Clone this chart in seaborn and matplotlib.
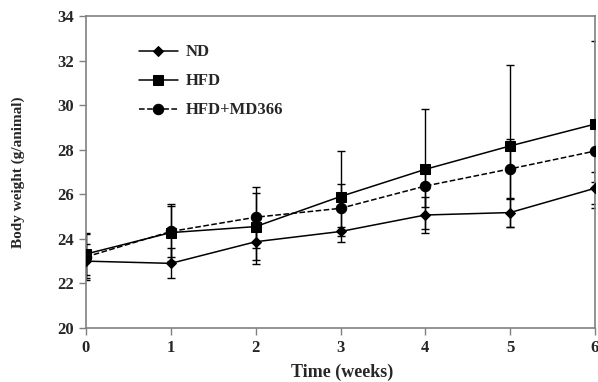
import matplotlib
matplotlib.use("Agg")
import matplotlib.pyplot as plt
import pandas as pd
import seaborn as sns

# body weight (g/animal) per week, mean and SD
weeks = [0, 1, 2, 3, 4, 5, 6]
groups = ["ND", "HFD", "HFD+MD366"]

nd_mean = [23.0, 22.9, 23.87, 24.33, 25.07, 25.18, 26.27]
nd_sd = [0.75, 0.67, 1.0, 0.22, 0.8, 0.64, 0.72]

hfd_mean = [23.32, 24.28, 24.55, 25.9, 27.12, 28.17, 29.15]
hfd_sd = [0.95, 1.27, 1.52, 2.04, 2.7, 3.63, 3.75]

md_mean = [23.19, 24.33, 24.97, 25.37, 26.37, 27.14, 27.94]
md_sd = [1.03, 1.13, 1.37, 1.08, 0.92, 1.34, 1.4]

means = {"ND": nd_mean, "HFD": hfd_mean, "HFD+MD366": md_mean}
sds = {"ND": nd_sd, "HFD": hfd_sd, "HFD+MD366": md_sd}

rows = []
for g in groups:
    for w, m, s in zip(weeks, means[g], sds[g]):
        rows.append({"week": w, "group": g, "weight": m, "sd": s})
data = pd.DataFrame(rows)

sns.set_theme(style="white")
plt.rcParams["font.family"] = ["Liberation Serif", "DejaVu Serif"]
plt.rcParams["font.weight"] = "bold"

fig = plt.figure(figsize=(5.98, 3.82), dpi=100)
ax = fig.add_axes([0.1438, 0.1414, 0.8512, 0.8167])

# error bars first, behind the lines
for g in groups:
    d = data[data["group"] == g]
    ax.errorbar(d["week"], d["weight"], yerr=d["sd"], fmt="none",
                ecolor="black", elinewidth=1.0, capsize=3, capthick=1.0,
                zorder=1)

styles = {
    "ND": dict(marker="D", markersize=5, linestyle="-"),
    "HFD": dict(marker="s", markersize=7, linestyle="-"),
    "HFD+MD366": dict(marker="o", markersize=7.5, linestyle="--"),
}
for g in groups:
    d = data[data["group"] == g]
    sns.lineplot(data=d, x="week", y="weight", ax=ax, color="black",
                 linewidth=1.1, label=g, errorbar=None,
                 markeredgecolor="black", markerfacecolor="black",
                 zorder=3, **styles[g])

ax.set_xlim(0, 6)
ax.set_ylim(20, 34)
ax.set_xticks(weeks)
ax.set_yticks(range(20, 35, 2))
ax.set_xlabel("Time (weeks)", fontsize=13, fontweight="bold")
ax.set_ylabel("Body weight (g/animal)", fontsize=11, fontweight="bold")
ax.xaxis.set_label_coords(0.503, -0.115)
ax.yaxis.set_label_coords(-0.12, 0.5)
ax.tick_params(axis="both", direction="out", length=5, width=1,
               color="#808080", labelsize=12, bottom=True, left=True)
for lab in ax.get_xticklabels() + ax.get_yticklabels():
    lab.set_fontweight("bold")
for side in ["left", "bottom", "top", "right"]:
    ax.spines[side].set_color("#808080")
    ax.spines[side].set_linewidth(1.2)

ax.legend(loc="upper left", bbox_to_anchor=(0.075, 0.957), frameon=False,
          handlelength=2.3, handletextpad=0.5, labelspacing=0.78,
          prop={"weight": "bold", "size": 12})

fig.savefig("out.png", dpi=100)
